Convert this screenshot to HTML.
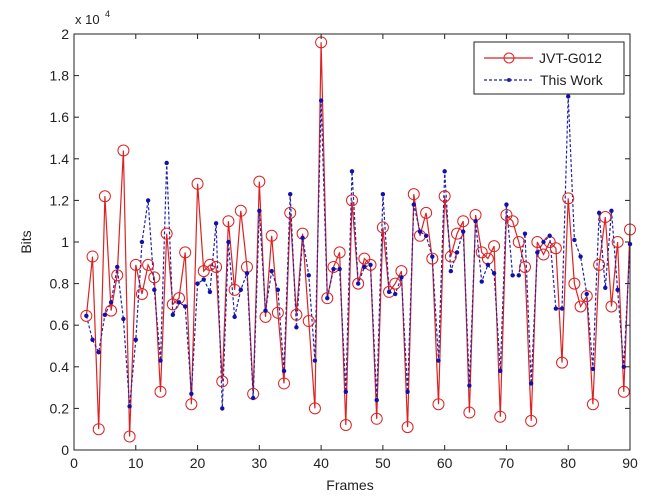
<!DOCTYPE html>
<html><head><meta charset="utf-8"><style>
body{margin:0;background:#fff;}
svg{display:block;font-family:"Liberation Sans",sans-serif;}
</style></head><body>
<svg id="s" width="670" height="498" viewBox="0 0 670 498">
<rect width="670" height="498" fill="#fff"/>
<g id="plot"></g>
<rect x="74" y="34" width="556" height="416" fill="none" stroke="#222" stroke-width="1"/>
<g id="ticks" stroke="#222" stroke-width="1"></g>
<g id="lab" font-size="14" fill="#222"></g>
<text x="75" y="24" font-size="13" fill="#222">x 10</text>
<text x="105" y="17" font-size="9" fill="#222">4</text>
<text x="350" y="490" font-size="14" fill="#222" text-anchor="middle">Frames</text>
<text x="31" y="242" font-size="14" fill="#222" text-anchor="middle" transform="rotate(-90 31 242)">Bits</text>
<rect x="474" y="42" width="150" height="52" fill="#fff" stroke="#222"/>
<line x1="484" y1="58" x2="533" y2="58" stroke="#d22" stroke-width="1.2"/>
<circle cx="509" cy="58" r="5" fill="none" stroke="#d22"/>
<text x="539" y="63" font-size="14" fill="#222">JVT-G012</text>
<line x1="484" y1="80" x2="533" y2="80" stroke="#22a" stroke-width="1.2" stroke-dasharray="3,2"/>
<circle cx="509" cy="80" r="2" fill="#22a"/>
<text x="540" y="85" font-size="14" fill="#222">This Work</text>
</svg>
<script>
var R=[.645,.93,.10,1.22,.67,.84,1.44,.065,.89,.75,.89,.83,.28,1.04,.70,.73,.95,.22,1.28,.86,.89,.88,.33,1.10,.77,1.15,.88,.27,1.29,.64,1.03,.66,.32,1.14,.65,1.04,.62,.20,1.96,.73,.88,.95,.12,1.20,.80,.92,.89,.15,1.07,.76,.80,.86,.11,1.23,1.03,1.14,.92,.22,1.22,.93,1.04,1.10,.18,1.13,.95,.92,.98,.16,1.13,1.10,1.00,.88,.14,1.00,.94,1.0,.97,.42,1.21,.80,.69,.74,.22,.89,1.12,.69,1.0,.28,1.06];
var B=[.645,.53,.47,.65,.71,.88,.63,.21,.53,1.0,1.20,.77,.43,1.38,.65,.71,.69,.27,.80,.82,.76,1.09,.20,1.0,.64,.77,.85,.25,1.15,.67,.86,.77,.38,1.23,.59,1.02,.84,.43,1.68,.73,.87,.87,.28,1.34,.80,.88,.89,.24,1.23,.76,.75,.83,.28,1.18,1.05,1.03,.93,.43,1.34,.86,.95,1.05,.31,1.10,.81,.89,.85,.38,1.18,.84,.84,1.04,.32,.95,1.00,1.03,.68,.68,1.70,1.01,.93,.75,.39,1.14,.78,1.15,.77,.40,.99];
function X(f){return 74+f*556/90}function Y(v){return 450-v*208}
var ns="http://www.w3.org/2000/svg",g=document.getElementById('plot');
function el(t,a,p){var e=document.createElementNS(ns,t);for(var k in a)e.setAttribute(k,a[k]);(p||g).appendChild(e);return e}
var pr=R.map(function(v,i){return X(i+2).toFixed(1)+','+Y(v).toFixed(1)}).join(' ');
var pb=B.map(function(v,i){return X(i+2).toFixed(1)+','+Y(v).toFixed(1)}).join(' ');
el('polyline',{points:pr,fill:'none',stroke:'#d22','stroke-width':1.2});
el('polyline',{points:pb,fill:'none',stroke:'#22a','stroke-width':1.2,'stroke-dasharray':'3,2'});
R.forEach(function(v,i){el('circle',{cx:X(i+2),cy:Y(v),r:5.5,fill:'none',stroke:'#d22','stroke-width':1})});
B.forEach(function(v,i){el('circle',{cx:X(i+2),cy:Y(v),r:2.2,fill:'#11a'})});
var t=document.getElementById('ticks'),l=document.getElementById('lab');
for(var f=0;f<=90;f+=10){var x=X(f);el('line',{x1:x,y1:450,x2:x,y2:445},t);el('line',{x1:x,y1:34,x2:x,y2:39},t);
var tx=el('text',{x:x,y:468,'text-anchor':'middle'},l);tx.textContent=f;}
for(var k=0;k<=10;k++){var v=k*0.2,y=Y(v);el('line',{x1:74,y1:y,x2:79,y2:y},t);el('line',{x1:630,y1:y,x2:625,y2:y},t);
var ty=el('text',{x:69,y:y+5,'text-anchor':'end'},l);ty.textContent=(k==0?'0':k==5?'1':k==10?'2':v.toFixed(1).replace(/\.0$/,''));}
</script>
</body></html>
